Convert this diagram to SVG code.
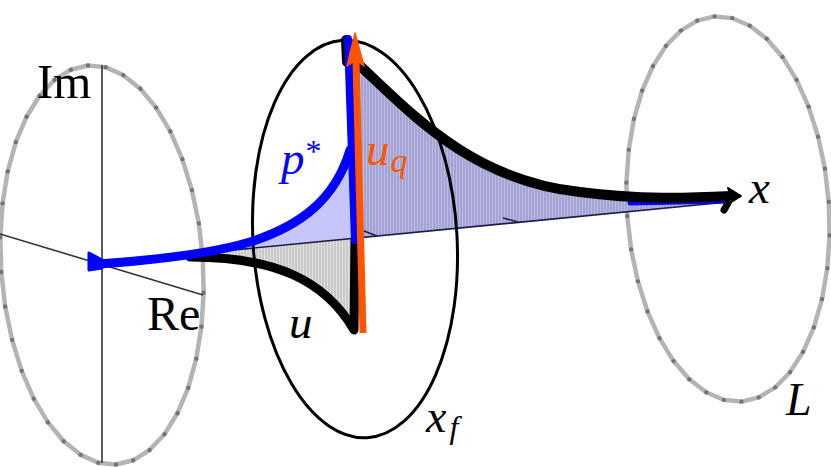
<svg xmlns="http://www.w3.org/2000/svg" xmlns:xlink="http://www.w3.org/1999/xlink" width="831" height="467" viewBox="0 0 831 467">
<style>
.ring{fill:none;stroke:#b4b4b4;stroke-width:4.5;stroke-linejoin:round;marker-start:url(#dot);marker-mid:url(#dot)}
.axis{stroke:#333;stroke-width:1.6;fill:none}
.thick{fill:none;stroke-linecap:round;stroke-linejoin:round}
</style>
<defs>
<marker id="dot" markerUnits="userSpaceOnUse" markerWidth="6" markerHeight="6" refX="3" refY="3" viewBox="0 0 6 6"><circle cx="3" cy="3" r="2.2" fill="#747474"/></marker>
<polygon id="ring" class="ring" points="101,0 99.5,34.7 94.9,68.4 87.5,100 77.4,128.6 64.9,153.2 50.5,173.2 34.5,187.9 17.5,197 0,200 -17.5,197 -34.5,187.9 -50.5,173.2 -64.9,153.2 -77.4,128.6 -87.5,100 -94.9,68.4 -99.5,34.7 -101,0 -99.5,-34.7 -94.9,-68.4 -87.5,-100 -77.4,-128.6 -64.9,-153.2 -50.5,-173.2 -34.5,-187.9 -17.5,-197 0,-200 17.5,-197 34.5,-187.9 50.5,-173.2 64.9,-153.2 77.4,-128.6 87.5,-100 94.9,-68.4 99.5,-34.7"/>
<pattern id="hGray" width="3" height="10" patternUnits="userSpaceOnUse"><rect width="3" height="10" fill="#c9c9c9"/><rect width="1" height="10" fill="#e2e2e2"/></pattern>
<pattern id="hNavy" width="3" height="10" patternUnits="userSpaceOnUse"><rect width="3" height="10" fill="#a4a4d4"/><rect width="1" height="10" fill="#bcbce2"/></pattern>
</defs>

<g id="plane-left">
<use xlink:href="#ring" transform="translate(102,265) rotate(-4)"/>
<line class="axis" x1="102" y1="65" x2="102" y2="463"/>
<line class="axis" x1="0" y1="234" x2="203" y2="295"/>
<text x="37" y="98" font-family="Liberation Serif, serif" font-size="49">Im</text>
<text x="147" y="330" font-family="Liberation Serif, serif" font-size="48">Re</text>
</g>

<g id="plane-right">
<use xlink:href="#ring" transform="translate(728,209) rotate(-4) scale(1,0.965)"/>
<text x="786" y="415" font-family="Liberation Serif, serif" font-style="italic" font-size="46">L</text>
</g>

<g id="surfaces">
<path d="M 190 256 C 275 257, 325 280, 354 330 L 355 238 Z" fill="url(#hGray)"/>
<path d="M 190 255 L 355 238 L 350 150 C 335 200, 300 226, 250 242 Q 215 252 190 255 Z" fill="#c6c6fb"/>
<path d="M 355 238 L 350 60 C 410 112, 470 180, 580 192 C 640 200, 690 198, 732 196 L 728 202 Z" fill="url(#hNavy)"/>
<line x1="100" y1="263" x2="728" y2="202" stroke="#1c1c4a" stroke-width="1.6"/>
<line x1="364" y1="231" x2="377" y2="236" stroke="#1c1c4a" stroke-width="1.5"/>
<line x1="503" y1="218" x2="518" y2="222" stroke="#1c1c4a" stroke-width="1.5"/>
</g>

<g id="plane-xf">
<ellipse cx="355" cy="239" rx="102" ry="199" transform="rotate(-3.5,355,239)" fill="none" stroke="#000" stroke-width="3"/>
<text x="426" y="432" font-family="Liberation Serif, serif" font-style="italic" font-size="46">x<tspan dx="3" dy="6" font-size="32">f</tspan></text>
</g>

<g id="connectors">
<path class="thick" d="M 630 203 L 729 201" stroke="#0000ff" stroke-width="5"/>
<path class="thick" d="M 346 40 L 347 62 L 356 62 C 410 112, 470 180, 580 192 C 640 200, 690 198, 731 196" stroke="#000" stroke-width="10"/>
<polygon points="741,196 728,188 731,196 728,204" fill="#000" stroke="#000" stroke-width="2" stroke-linejoin="round"/>
<path class="thick" d="M 728 203 L 724 210" stroke="#000" stroke-width="7"/>
<path class="thick" d="M 190 257 C 275 257, 325 280, 354 330 L 355 240" stroke="#000" stroke-width="9"/>
<path class="thick" d="M 98 264 Q 200 257 250 242 C 300 226, 335 200, 350 150" stroke="#0000ff" stroke-width="9"/>
<path class="thick" d="M 355 240 L 348 39" stroke="#0000ff" stroke-width="8"/>
<polygon points="89,253 89,270 102,268 104,261" fill="#0000ff" stroke="#0000ff" stroke-width="3" stroke-linejoin="round"/>
<path d="M 363 333 L 356 60" stroke="#ff5500" stroke-width="7" fill="none"/>
<polygon points="355,33 364,66 356,60 347,66" fill="#ff5500" stroke="#ff5500" stroke-width="1.5" stroke-linejoin="round"/>
</g>

<g id="labels" font-family="Liberation Serif, serif" font-style="italic" font-size="47">
<text x="281" y="174" fill="#0000ff">p<tspan font-style="normal" font-size="32" dx="1" dy="-12">*</tspan></text>
<text x="366" y="165" fill="#ff5500">u<tspan font-size="34" dx="1" dy="7">q</tspan></text>
<text x="289" y="338">u</text>
<text x="749" y="203">x</text>
</g>
</svg>
